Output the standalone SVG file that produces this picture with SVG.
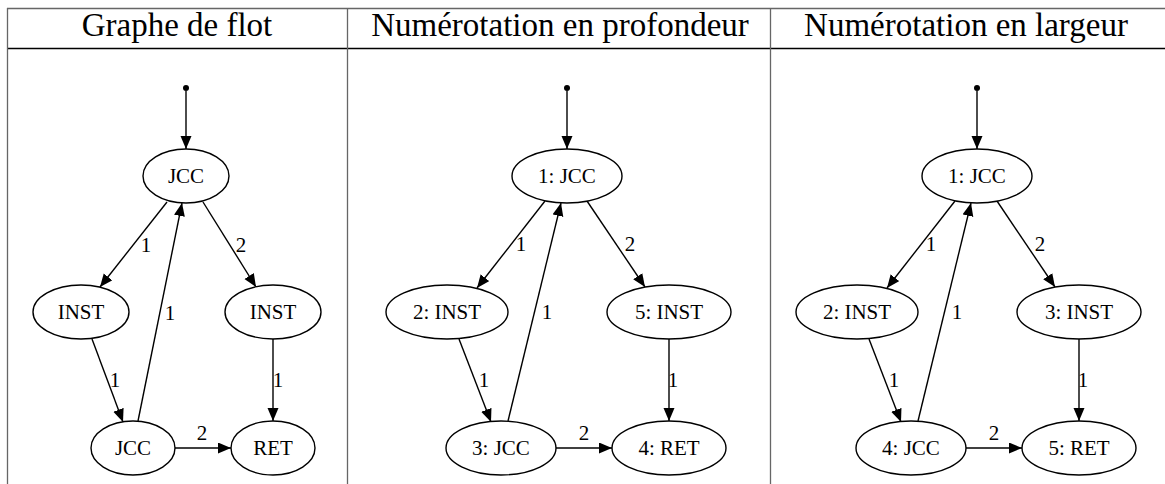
<svg xmlns="http://www.w3.org/2000/svg" width="1165" height="484" viewBox="0 0 1165 484" font-family="Liberation Serif">
<defs>
<marker id="ah" markerUnits="userSpaceOnUse" markerWidth="14" markerHeight="12" refX="13" refY="5.5" orient="auto" viewBox="0 0 14 12">
<path d="M0,0 L13,5.5 L0,11 z" fill="#000"/>
</marker>
</defs>
<rect width="1165" height="484" fill="#fff"/>
<g id="table" stroke="#666" stroke-width="1.3">
<line x1="7" y1="8.5" x2="1165" y2="8.5"/>
<line x1="7" y1="48.5" x2="1165" y2="48.5" stroke="#000"/>
<line x1="7.5" y1="8" x2="7.5" y2="484"/>
<line x1="347.5" y1="8" x2="347.5" y2="484"/>
<line x1="770.5" y1="8" x2="770.5" y2="484"/>
</g>
<g id="headers" fill="#000" stroke="none">
<text font-family="Liberation Serif" font-size="33" text-anchor="middle" x="177" y="36">Graphe de flot</text>
<text font-family="Liberation Serif" font-size="33" text-anchor="middle" x="560" y="36">Num&#233;rotation en profondeur</text>
<text font-family="Liberation Serif" font-size="33" text-anchor="middle" x="966" y="36">Num&#233;rotation en largeur</text>
</g>
<g id="connectors" fill="none" stroke="#000" stroke-width="1.4">
<circle cx="186" cy="88" r="3" fill="#000" stroke="none"/>
<path marker-end="url(#ah)" d="M186,91 L186,149"/>
<path marker-end="url(#ah)" d="M167,202 L100,287"/>
<path marker-end="url(#ah)" d="M203,202 L256,287"/>
<path marker-end="url(#ah)" d="M138,421 L182,203"/>
<path marker-end="url(#ah)" d="M92,339 L123,422"/>
<path marker-end="url(#ah)" d="M273,339 L273,421"/>
<path marker-end="url(#ah)" d="M175,448 L231,448"/>
<circle cx="567" cy="88" r="3" fill="#000" stroke="none"/>
<path marker-end="url(#ah)" d="M567,91 L567,149"/>
<path marker-end="url(#ah)" d="M545,201 L477,288"/>
<path marker-end="url(#ah)" d="M587,201 L645,287"/>
<path marker-end="url(#ah)" d="M508,421 L561,203"/>
<path marker-end="url(#ah)" d="M459,339 L491,422"/>
<path marker-end="url(#ah)" d="M669,339 L669,421"/>
<path marker-end="url(#ah)" d="M556,448 L612,448"/>
<circle cx="977" cy="88" r="3" fill="#000" stroke="none"/>
<path marker-end="url(#ah)" d="M977,91 L977,149"/>
<path marker-end="url(#ah)" d="M955,201 L887,288"/>
<path marker-end="url(#ah)" d="M997,201 L1055,287"/>
<path marker-end="url(#ah)" d="M918,421 L971,203"/>
<path marker-end="url(#ah)" d="M869,339 L901,422"/>
<path marker-end="url(#ah)" d="M1079,339 L1079,421"/>
<path marker-end="url(#ah)" d="M966,448 L1022,448"/>
<g fill="#000" stroke="none" text-anchor="middle" font-family="Liberation Serif" font-size="21">
<text x="146" y="252">1</text>
<text x="241" y="252">2</text>
<text x="170" y="320">1</text>
<text x="115" y="387">1</text>
<text x="278" y="387">1</text>
<text x="202" y="440">2</text>
<text x="521" y="251">1</text>
<text x="630" y="251">2</text>
<text x="547" y="319">1</text>
<text x="484" y="387">1</text>
<text x="673" y="387">1</text>
<text x="584" y="440">2</text>
<text x="931" y="251">1</text>
<text x="1040" y="251">2</text>
<text x="957" y="319">1</text>
<text x="894" y="387">1</text>
<text x="1083" y="387">1</text>
<text x="994" y="440">2</text>
</g>
</g>
<g id="nodes" fill="#fff" stroke="#000" stroke-width="1.4">
<g id="p1-jcc-top"><ellipse cx="186" cy="176" rx="43" ry="27"/><text fill="#000" stroke="none" text-anchor="middle" font-family="Liberation Serif" font-size="21" x="186" y="183">JCC</text></g>
<g id="p1-inst-left"><ellipse cx="81" cy="312" rx="48" ry="27"/><text fill="#000" stroke="none" text-anchor="middle" font-family="Liberation Serif" font-size="21" x="81" y="319">INST</text></g>
<g id="p1-inst-right"><ellipse cx="273" cy="312" rx="48" ry="27"/><text fill="#000" stroke="none" text-anchor="middle" font-family="Liberation Serif" font-size="21" x="273" y="319">INST</text></g>
<g id="p1-jcc-bottom"><ellipse cx="133" cy="448" rx="42" ry="27"/><text fill="#000" stroke="none" text-anchor="middle" font-family="Liberation Serif" font-size="21" x="133" y="455">JCC</text></g>
<g id="p1-ret"><ellipse cx="273" cy="448" rx="42" ry="27"/><text fill="#000" stroke="none" text-anchor="middle" font-family="Liberation Serif" font-size="21" x="273" y="455">RET</text></g>
<g id="p2-n1"><ellipse cx="567" cy="176" rx="55" ry="27"/><text fill="#000" stroke="none" text-anchor="middle" font-family="Liberation Serif" font-size="21" x="567" y="183">1: JCC</text></g>
<g id="p2-n2"><ellipse cx="447" cy="312" rx="61" ry="27"/><text fill="#000" stroke="none" text-anchor="middle" font-family="Liberation Serif" font-size="21" x="447" y="319">2: INST</text></g>
<g id="p2-n5"><ellipse cx="669" cy="312" rx="62" ry="27"/><text fill="#000" stroke="none" text-anchor="middle" font-family="Liberation Serif" font-size="21" x="669" y="319">5: INST</text></g>
<g id="p2-n3"><ellipse cx="501" cy="448" rx="55" ry="27"/><text fill="#000" stroke="none" text-anchor="middle" font-family="Liberation Serif" font-size="21" x="501" y="455">3: JCC</text></g>
<g id="p2-n4"><ellipse cx="669" cy="448" rx="57" ry="27"/><text fill="#000" stroke="none" text-anchor="middle" font-family="Liberation Serif" font-size="21" x="669" y="455">4: RET</text></g>
<g id="p3-n1"><ellipse cx="977" cy="176" rx="55" ry="27"/><text fill="#000" stroke="none" text-anchor="middle" font-family="Liberation Serif" font-size="21" x="977" y="183">1: JCC</text></g>
<g id="p3-n2"><ellipse cx="857" cy="312" rx="61" ry="27"/><text fill="#000" stroke="none" text-anchor="middle" font-family="Liberation Serif" font-size="21" x="857" y="319">2: INST</text></g>
<g id="p3-n3"><ellipse cx="1079" cy="312" rx="62" ry="27"/><text fill="#000" stroke="none" text-anchor="middle" font-family="Liberation Serif" font-size="21" x="1079" y="319">3: INST</text></g>
<g id="p3-n4"><ellipse cx="911" cy="448" rx="55" ry="27"/><text fill="#000" stroke="none" text-anchor="middle" font-family="Liberation Serif" font-size="21" x="911" y="455">4: JCC</text></g>
<g id="p3-n5"><ellipse cx="1079" cy="448" rx="57" ry="27"/><text fill="#000" stroke="none" text-anchor="middle" font-family="Liberation Serif" font-size="21" x="1079" y="455">5: RET</text></g>
</g>
</svg>
